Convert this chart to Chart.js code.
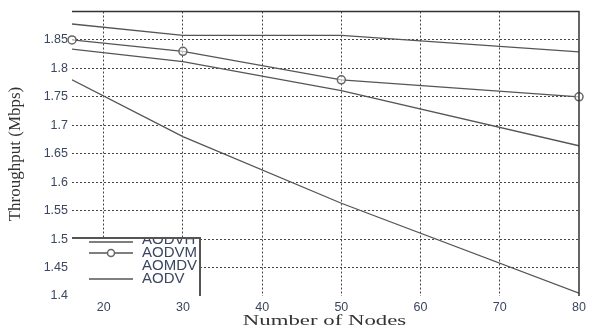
<!DOCTYPE html>
<html>
<head>
<meta charset="utf-8">
<script src="https://cdn.jsdelivr.net/npm/chart.js@4/dist/chart.umd.min.js"></script>
<style>
  html, body { margin: 0; padding: 0; background: #fff; }
  #wrap { width: 593px; height: 328px; }
</style>
</head>
<body>
<div id="wrap"><canvas id="tputChart"></canvas></div>
<script>
// data
const nodes = [16, 30, 50, 80];
const aodvh = [1.878, 1.858, 1.858, 1.829];
const aodvm = [1.85, 1.83, 1.78, 1.75];
const aomdv = [1.834, 1.812, 1.761, 1.664];
const aodv = [1.78, 1.68, 1.563, 1.405];
const xTicks = [20, 30, 40, 50, 60, 70, 80];
const yTicks = [1.4, 1.45, 1.5, 1.55, 1.6, 1.65, 1.7, 1.75, 1.8, 1.85];
const seriesNames = ['AODVH', 'AODVM', 'AOMDV', 'AODV'];
const xTitle = 'Number of Nodes';
const yTitle = 'Throughput (Mbps)';

const lineCol = '#555';
const tickCol = '#3b4660';
const serif = '"Liberation Serif", "Times New Roman", serif';
const sans = '"Liberation Sans", Arial, sans-serif';

function pts(ys) {
  return nodes.map((x, i) => ({ x: x, y: ys[i] }));
}

// top/right frame, axis titles, and the little legend box in the lower left
const framePlugin = {
  id: 'frame',
  afterDraw(chart) {
    const { ctx, chartArea: a } = chart;
    ctx.save();
    ctx.strokeStyle = '#333';
    ctx.lineWidth = 1.5;
    ctx.beginPath();
    ctx.moveTo(a.left, a.top);
    ctx.lineTo(a.right, a.top);
    ctx.lineTo(a.right, a.bottom);
    ctx.stroke();

    // axis titles (the x one is a wide serif, so stretch it a bit)
    ctx.fillStyle = '#333';
    ctx.font = '15px ' + serif;
    ctx.textAlign = 'center';
    ctx.textBaseline = 'alphabetic';
    ctx.save();
    ctx.translate((a.left + a.right) / 2 - 1, 325);
    ctx.scale(1.52, 1);
    ctx.fillText(xTitle, 0, 0);
    ctx.restore();

    ctx.save();
    ctx.translate(16, 154);
    ctx.rotate(-Math.PI / 2);
    ctx.font = '17px ' + serif;
    ctx.textBaseline = 'middle';
    ctx.fillText(yTitle, 0, 0);
    ctx.restore();

    // legend box
    const bx = a.left, by = a.bottom - 58, bw = 128;
    ctx.fillStyle = '#fff';
    ctx.fillRect(bx, by, bw, a.bottom - by);

    ctx.save();
    ctx.beginPath();
    ctx.rect(bx, by, bw + 4, a.bottom - by + 10);
    ctx.clip();
    ctx.font = '15px ' + sans;
    ctx.textAlign = 'left';
    ctx.textBaseline = 'middle';
    const rows = [by + 1.5, by + 14.5, by + 28, by + 40.5];
    seriesNames.forEach((name, i) => {
      const y = rows[i];
      ctx.fillStyle = tickCol;
      ctx.fillText(name, bx + 70, y);
      const ly = [by + 4, by + 15, 0, by + 41][i];
      if (i !== 2) {
        ctx.strokeStyle = lineCol;
        ctx.lineWidth = 1.3;
        ctx.beginPath();
        ctx.moveTo(bx + 17, ly);
        ctx.lineTo(bx + 61, ly);
        ctx.stroke();
      }
      if (i === 1) {
        ctx.fillStyle = '#fff';
        ctx.strokeStyle = '#666';
        ctx.lineWidth = 1.5;
        ctx.beginPath();
        ctx.arc(bx + 39, ly, 3.5, 0, Math.PI * 2);
        ctx.fill();
        ctx.stroke();
      }
    });
    ctx.restore();

    ctx.strokeStyle = '#555';
    ctx.lineWidth = 2;
    ctx.beginPath();
    ctx.moveTo(bx, by);
    ctx.lineTo(bx + bw, by);
    ctx.lineTo(bx + bw, a.bottom);
    ctx.stroke();
    ctx.restore();
  }
};

const ctx = document.getElementById('tputChart');
new Chart(ctx, {
  type: 'line',
  data: {
    datasets: [
      { label: 'AODVH', data: pts(aodvh), borderColor: lineCol, borderWidth: 1.3, pointRadius: 0, fill: false },
      { label: 'AODVM', data: pts(aodvm), borderColor: lineCol, borderWidth: 1.3, clip: false,
        pointRadius: 4, pointBorderColor: '#666', pointBackgroundColor: 'rgba(255,255,255,0.6)', pointBorderWidth: 1.5, fill: false },
      { label: 'AOMDV', data: pts(aomdv), borderColor: lineCol, borderWidth: 1.3, pointRadius: 0, fill: false },
      { label: 'AODV', data: pts(aodv), borderColor: lineCol, borderWidth: 1.3, pointRadius: 0, fill: false }
    ]
  },
  options: {
    responsive: true,
    maintainAspectRatio: false,
    animation: false,
    layout: { padding: { top: 11, right: 14, left: 0, bottom: 0 } },
    plugins: {
      legend: { display: false },
      tooltip: { enabled: false }
    },
    scales: {
      x: {
        type: 'linear',
        min: 16,
        max: 80,
        afterBuildTicks(scale) { scale.ticks = xTicks.map(v => ({ value: v })); },
        afterFit(scale) { scale.height = 32; },
        grid: {
          drawTicks: false,
          color: c => (c.tick && c.tick.value === 80) ? 'rgba(0,0,0,0)' : '#444',
          lineWidth: 1
        },
        border: { display: false, dash: [2, 2] },
        ticks: {
          padding: 4,
          color: tickCol,
          font: { family: sans, size: 12.5 }
        }
      },
      y: {
        min: 1.4,
        max: 1.9,
        afterBuildTicks(scale) { scale.ticks = yTicks.map(v => ({ value: v })); },
        afterFit(scale) { scale.width = 72; },
        grid: {
          drawTicks: false,
          color: c => (c.tick && c.tick.value === 1.4) ? 'rgba(0,0,0,0)' : '#444',
          lineWidth: 1
        },
        border: { display: false, dash: [2, 2] },
        ticks: {
          padding: 4,
          color: tickCol,
          font: { family: sans, size: 12.5 },
          callback: v => String(Math.round(v * 100) / 100)
        }
      }
    }
  },
  plugins: [framePlugin]
});
</script>
</body>
</html>
